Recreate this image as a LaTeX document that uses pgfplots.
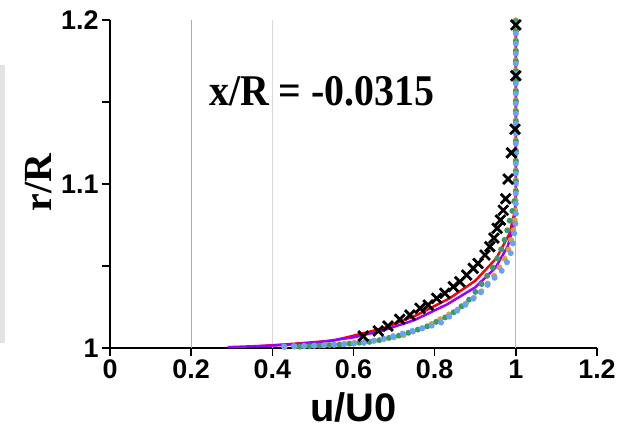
\documentclass[border=0pt]{standalone}
\usepackage{pgfplots}
\pgfplotsset{compat=1.18}
\usepackage{fontspec}
\setmainfont{Liberation Sans}
\newfontfamily\serifb{Liberation Serif}
\definecolor{cRed}{HTML}{FF0000}
\definecolor{cPurple}{HTML}{9900FF}
\definecolor{cGreen}{HTML}{3A9A6A}
\definecolor{cOrange}{HTML}{D4A040}
\definecolor{cBlue}{HTML}{66A3F5}
\begin{document}
\begin{tikzpicture}
\path (-110bp,-91bp) rectangle (518bp,348bp);
\fill[gray!22] (-110bp,5bp) rectangle (-105bp,283bp);
\begin{axis}[
  at={(0,0)}, anchor=south west,
  width=487bp, height=328bp, scale only axis,
  xmin=0, xmax=1.2, ymin=1, ymax=1.2,
  axis lines=left,
  axis line style={-, line width=1.5bp, black},
  xtick={0,0.2,0.4,0.6,0.8,1,1.2},
  ytick={1,1.1,1.2},
  minor ytick={1.05,1.15},
  tick align=outside,
  major tick length=8bp, minor tick length=8bp,
  every tick/.style={black, line width=1.5bp},
  tick label style={font=\bfseries\fontsize{27}{27}\selectfont},
  /pgf/number format/assume math mode=true,
  xlabel={u/U0},
  xlabel style={font=\bfseries\fontsize{40}{40}\selectfont, at={(rel axis cs:0.5,0)}, anchor=north, yshift=-41bp},
  ylabel={\serifb\bfseries r/R},
  ylabel style={font=\fontsize{40}{40}\selectfont, at={(axis description cs:-0.146,0.504)}, anchor=center},
  clip=false,
]
\draw[gray!65, line width=1bp] (axis cs:0.2,1) -- (axis cs:0.2,1.2);
\draw[gray!30, line width=1bp] (axis cs:0.4,1) -- (axis cs:0.4,1.2);
\draw[gray!55, line width=1bp] (axis cs:1,1) -- (axis cs:1,1.2);
\node[font=\serifb\bfseries\fontsize{40}{40}\selectfont, anchor=base, yscale=1.1] at (axis cs:0.522,1.148) {x/R = -0.0315};
% solid lines
\addplot[cRed, line width=2.5bp] coordinates {
(0.36,1.001) (0.45,1.0025) (0.55,1.0045) (0.6,1.0075) (0.673,1.012) (0.755,1.020) (0.837,1.0303) (0.9,1.041) (0.952,1.0547) (0.985,1.070) (0.998,1.084) (1.0,1.095) (1.0,1.2)};
\addplot[cPurple, line width=2.5bp] coordinates {
(0.29,1.0005) (0.4,1.0015) (0.5,1.003) (0.6,1.0065) (0.67,1.0105) (0.75,1.017) (0.83,1.0265) (0.9,1.037) (0.95,1.049) (0.98,1.062) (0.995,1.075) (1.0,1.09) (1.0,1.2)};
% dotted series
\addplot[cOrange, line width=6bp, line cap=round, dash pattern=on 0pt off 10bp] coordinates {
(0.43,1.0006) (0.55,1.002) (0.64,1.004) (0.714,1.007) (0.78,1.013) (0.854,1.023) (0.91,1.033) (0.948,1.0445) (0.972,1.054) (0.985,1.062) (0.994,1.072) (0.998,1.080) (1.0,1.095) (1.0,1.2)};
\addplot[cGreen, line width=6bp, line cap=round, dash pattern=on 0pt off 10bp, dash phase=3bp] coordinates {
(0.45,1.0006) (0.56,1.002) (0.65,1.004) (0.72,1.008) (0.78,1.013) (0.837,1.020) (0.88,1.028) (0.919,1.040) (0.945,1.050) (0.961,1.058) (0.975,1.068) (0.983,1.076) (0.993,1.085) (1.0,1.095) (1.0,1.2)};
\addplot[cBlue, line width=6bp, line cap=round, dash pattern=on 0pt off 10bp, dash phase=6.5bp] coordinates {
(0.42,1.001) (0.52,1.0015) (0.624,1.003) (0.68,1.006) (0.739,1.010) (0.813,1.015) (0.874,1.026) (0.91,1.033) (0.936,1.040) (0.965,1.047) (0.985,1.055) (0.993,1.064) (1.0,1.078) (1.0,1.2)};
% crosses
\addplot[only marks, mark=x, mark size=7bp, black, line width=2.8bp] coordinates {
(0.624,1.0073) (0.661,1.0104) (0.685,1.0134) (0.714,1.0175) (0.739,1.0201) (0.764,1.0242) (0.784,1.0262) (0.805,1.0303) (0.825,1.0334) (0.846,1.0374) (0.862,1.0404) (0.879,1.0445) (0.895,1.0486) (0.907,1.0516) (0.924,1.0567) (0.936,1.0618) (0.946,1.067) (0.954,1.073) (0.962,1.078) (0.969,1.084) (0.975,1.091) (0.981,1.103) (0.989,1.119) (0.998,1.1334) (1.0,1.166) (1.0,1.197)};
\end{axis}
\end{tikzpicture}
\end{document}
